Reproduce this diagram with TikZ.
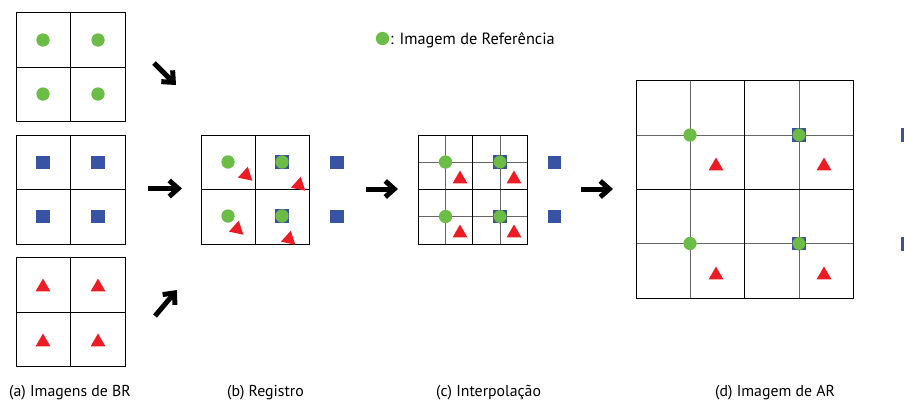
\documentclass[tikz,border=0pt]{standalone}
\usepackage{fontspec}
\setmainfont{PT Sans}
\usetikzlibrary{arrows.meta,shapes.geometric}

\definecolor{refgreen}{RGB}{108,189,69}
\definecolor{lrblue}{RGB}{57,83,164}
\definecolor{lrred}{RGB}{237,28,36}

\tikzset{
  frame/.style={draw=black, line width=1pt},
  fineline/.style={draw=black!60, line width=1pt},
  refdot/.style={circle, fill=refgreen, minimum size=13.3pt, inner sep=0pt},
  refdotover/.style={refdot, draw=black!70, densely dotted, line width=0.6pt},
  lrsq/.style={rectangle, fill=lrblue, minimum size=13.3pt, inner sep=0pt},
  lrtri/.style={regular polygon, regular polygon sides=3, fill=lrred,
                minimum size=17pt, inner sep=0pt},
  flowarrow/.style={line width=5pt,
                    -{Straight Barb[length=9pt,width=16pt,line width=5pt]}},
  caption/.style={anchor=base west, inner sep=0pt, font=\fontsize{15.8}{18}\selectfont},
  legendtext/.style={anchor=base west, inner sep=0pt, font=\fontsize{16.3}{18}\selectfont},
}

\begin{document}
\begin{tikzpicture}[x=1pt, y=-1pt]
\useasboundingbox (0,0) rectangle (904,400);

% ---------- (a) low-resolution inputs ----------
\foreach \top/\mid/\bot in {12/67/121, 135/189/244, 257/312/366}{
  \draw[frame] (16,\top) rectangle (125,\bot);
  \draw[frame] (70,\top) -- (70,\bot) (16,\mid) -- (125,\mid);
}
\node[refdot] (a-g1) at (43,40) {};
\node[refdot] (a-g2) at (98,40) {};
\node[refdot] (a-g3) at (43,94) {};
\node[refdot] (a-g4) at (98,94) {};
\node[lrsq] (a-b1) at (43,162.5) {};
\node[lrsq] (a-b2) at (98,162.5) {};
\node[lrsq] (a-b3) at (43,216.5) {};
\node[lrsq] (a-b4) at (98,216.5) {};
\node[lrtri] (a-r1) at (43,287) {};
\node[lrtri] (a-r2) at (98,287) {};
\node[lrtri] (a-r3) at (43,342) {};
\node[lrtri] (a-r4) at (98,342) {};

% arrows from the inputs to the registration
\coordinate (ar1s) at (154,63);  \coordinate (ar1e) at (176,85);
\coordinate (ar2s) at (148,188.5); \coordinate (ar2e) at (182,188.5);
\coordinate (ar3s) at (155,316); \coordinate (ar3e) at (177,290);
\draw[flowarrow] (ar1s) -- (ar1e);
\draw[flowarrow] (ar2s) -- (ar2e);
\draw[flowarrow] (ar3s) -- (ar3e);

% ---------- (b) registration ----------
\draw[frame] (201,135) rectangle (309,244);
\draw[frame] (255,135) -- (255,244) (201,189) -- (309,189);
\node[lrsq] (b-b1) at (282,162) {};
\node[lrsq] (b-b2) at (282,216) {};
\node[lrsq] (b-b3) at (337,162.5) {};
\node[lrsq] (b-b4) at (337,216.5) {};
\node[refdot] (b-g1) at (228,162) {};
\node[refdot] (b-g2) at (282,162) {};
\node[refdot] (b-g3) at (228,216) {};
\node[refdot] (b-g4) at (282,216) {};
\node[lrtri, rotate=-12] (b-r1) at (246,175) {};
\node[lrtri, rotate=-12] (b-r2) at (299,185) {};
\node[lrtri, rotate=-12] (b-r3) at (237,229) {};
\node[lrtri, rotate=-12] (b-r4) at (289,239) {};

\coordinate (bcs) at (366,189); \coordinate (bce) at (398,189);
\draw[flowarrow] (bcs) -- (bce);

% ---------- (c) interpolation ----------
\draw[fineline] (445.5,135) -- (445.5,244) (500,135) -- (500,244)
                (418,162) -- (527,162) (418,216.5) -- (527,216.5);
\draw[frame] (418,135) rectangle (527,244);
\draw[frame] (472.5,135) -- (472.5,244) (418,189) -- (527,189);
\node[lrsq] (c-b1) at (500,162) {};
\node[lrsq] (c-b2) at (500,216.5) {};
\node[lrsq] (c-b3) at (554.5,162.5) {};
\node[lrsq] (c-b4) at (554.5,216.5) {};
\node[refdot] (c-g1) at (445.5,162) {};
\node[refdotover] (c-g2) at (500,162) {};
\node[refdot] (c-g3) at (445.5,216.5) {};
\node[refdotover] (c-g4) at (500,216.5) {};
\node[lrtri] (c-r1) at (460,179) {};
\node[lrtri] (c-r2) at (514,179) {};
\node[lrtri] (c-r3) at (460,233) {};
\node[lrtri] (c-r4) at (514,233) {};

\coordinate (cds) at (581,189); \coordinate (cde) at (613,189);
\draw[flowarrow] (cds) -- (cde);

% ---------- (d) high-resolution result ----------
\draw[fineline] (690,80) -- (690,298) (799,80) -- (799,298)
                (636,135) -- (853,135) (636,243.5) -- (853,243.5);
\draw[frame] (636,80) rectangle (853,298);
\draw[frame] (744.5,80) -- (744.5,298) (636,189) -- (853,189);
\node[lrsq] (d-b1) at (799,135) {};
\node[lrsq] (d-b2) at (799,243.5) {};
\node[refdot] (d-g1) at (690,135) {};
\node[refdotover] (d-g2) at (799,135) {};
\node[refdot] (d-g3) at (690,243.5) {};
\node[refdotover] (d-g4) at (799,243.5) {};
\node[lrtri] (d-r1) at (716,166) {};
\node[lrtri] (d-r2) at (824,166) {};
\node[lrtri] (d-r3) at (716,275) {};
\node[lrtri] (d-r4) at (824,275) {};

% squares of the next stage, cut by the right edge
\fill[lrblue] (901,128) rectangle (904,142);
\fill[lrblue] (901,237) rectangle (904,251);

% ---------- legend and captions ----------
\node[refdot] (legdot) at (382.5,38.5) {};
\node[legendtext] (legtxt) at (390,44.5) {: Imagem de Referência};

\node[caption] (capa) at (9,396) {(a) Imagens de BR};
\node[caption] (capb) at (227,396) {(b) Registro};
\node[caption] (capc) at (436,396) {(c) Interpolação};
\node[caption] (capd) at (715,396) {(d) Imagem de AR};
\end{tikzpicture}
\end{document}
